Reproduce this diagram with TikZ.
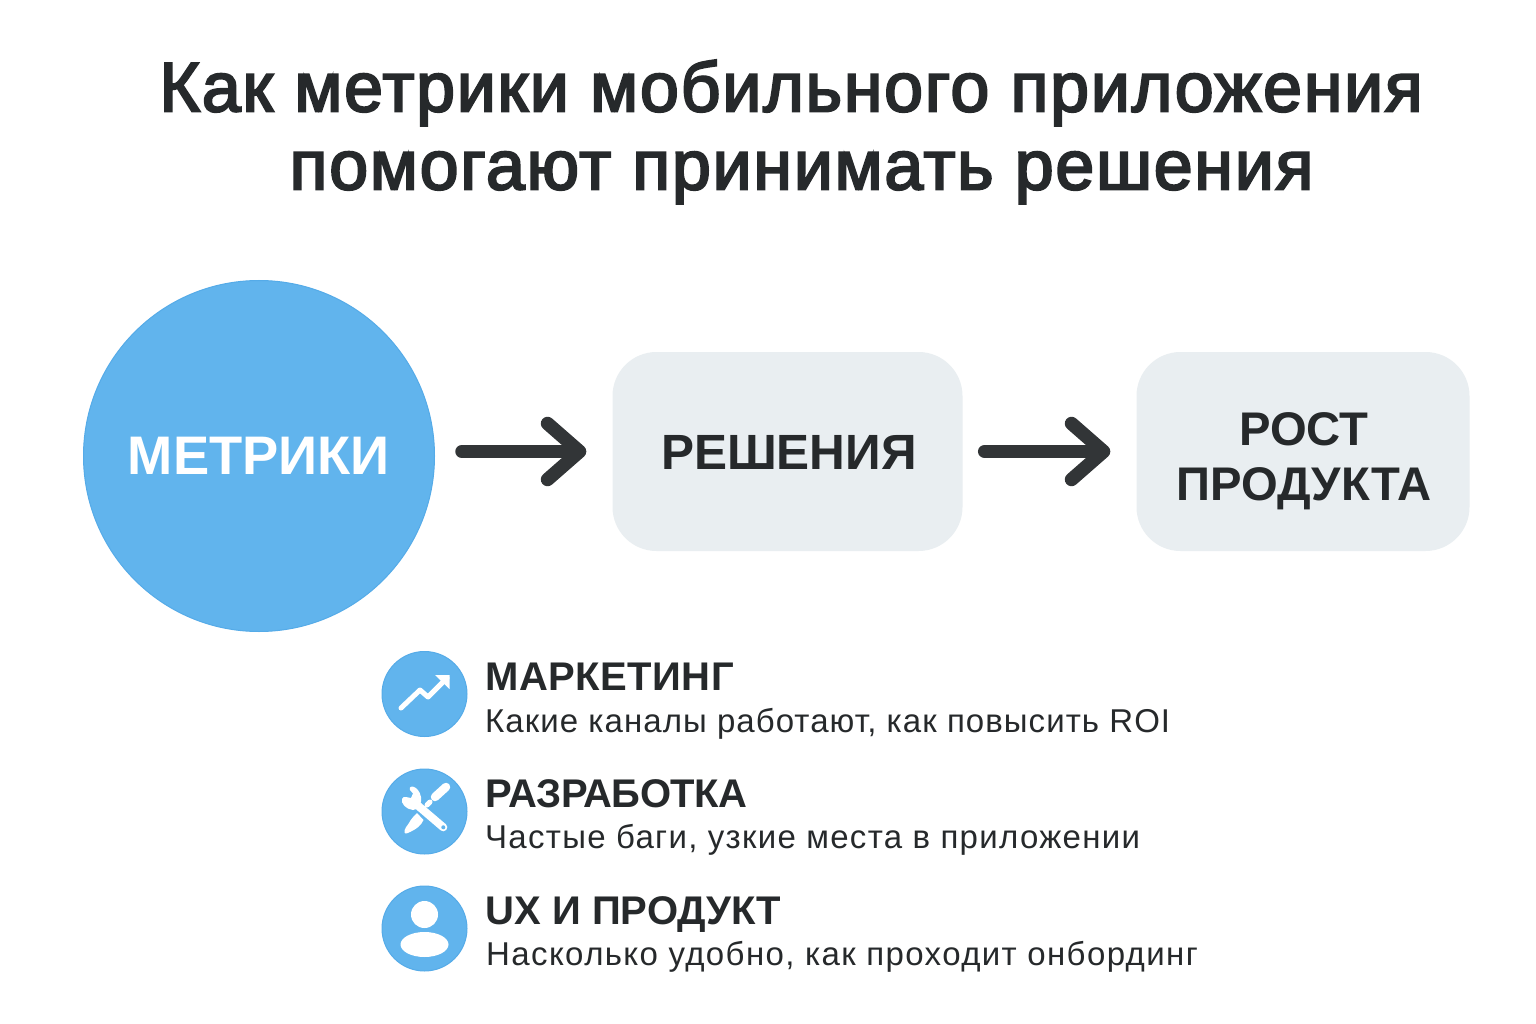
\documentclass[tikz,border=0pt]{standalone}
\usepackage{fontspec}
\setmainfont{Liberation Sans}
\newfontfamily\titlef[FakeBold=3,LetterSpace=2.4]{Liberation Sans}
\newfontfamily\subfa[LetterSpace=3.2]{Liberation Sans}
\newfontfamily\subfb[LetterSpace=3.9]{Liberation Sans}
\newfontfamily\subfc[LetterSpace=4.2]{Liberation Sans}
\usetikzlibrary{arrows.meta}
\definecolor{ink}{HTML}{26292B}
\definecolor{arrowc}{HTML}{323537}
\definecolor{blue1}{HTML}{61B4ED}
\definecolor{blue2}{HTML}{55ABE8}
\definecolor{boxc}{HTML}{E9EEF1}
\tikzset{
 x=1pt,y=-1pt,
 titletxt/.style={text=ink,font=\titlef\fontsize{70}{78}\selectfont,align=center,inner sep=0},
 boxn/.style={fill=boxc,rounded corners=44pt,minimum height=199pt,inner sep=0},
 boxt/.style={inner sep=0,text=ink,align=center},
 flow/.style={draw=arrowc,line width=13.5pt,line cap=round,-{Straight Barb[length=32pt,width=56pt,round,line width=13.5pt,line join=round]}},
 iconc/.style={circle,fill=blue1,draw=blue2,line width=1pt,minimum size=85pt,inner sep=0},
 headt/.style={anchor=base west,inner sep=0,text=ink,font=\fontsize{40}{42}\selectfont\bfseries},
 subt/.style={anchor=base west,inner sep=0,text=ink},
 ico/.style={draw=white,line cap=round,line join=round},
}
\begin{document}
\begin{tikzpicture}
\useasboundingbox (0,0) rectangle (1536,1024);
\fill[white] (0,0) rectangle (1536,1024);
\node[titletxt] (t) at (791,132) {Как метрики мобильного приложения\\\hspace*{21pt}помогают принимать решения};
\node[circle,fill=blue1,draw=blue2,line width=1pt,minimum size=351pt,inner sep=0,text=white,font=\fontsize{54.3}{60}\selectfont\bfseries] (m) at (259,456) {МЕТРИКИ};
\node[boxn,minimum width=350pt] (r) at (787.5,451.5) {};
\node[boxt,font=\fontsize{49.5}{54}\selectfont\bfseries] (rt) at (789,452.5) {РЕШЕНИЯ};
\node[boxn,minimum width=333pt] (g) at (1303,451.5) {};
\node[boxt,font=\fontsize{47.2}{54.5}\selectfont\bfseries] (gt) at (1304,461) {РОСТ\\ПРОДУКТА};
\draw[flow,shorten <=27pt,shorten >=26pt] (m.east |- r.west) -- (r.west);
\draw[flow,shorten <=22pt,shorten >=26pt] (r.east) -- (g.west);
\node[iconc] (i1) at (424.5,694) {};
\node[iconc] (i2) at (424.5,811.5) {};
\node[iconc] (i3) at (424.5,928.5) {};
% chart icon
\draw[ico,line width=5pt] (401,708) -- (420,690) -- (428,697) -- (447,678);
\fill[white] (435,675) -- (449.5,675) -- (449.5,689) -- cycle;
% tools icon: wrench
\draw[ico,line width=8pt] (416,804) -- (443.3,827.3);
\fill[white] (402,799) .. controls (400.5,803) and (406,809.5) .. (413,810) .. controls (419,810) and (422,803) .. (421,797) .. controls (420,791) and (416,787) .. (412.5,786.5) .. controls (409.5,786.5) and (409,789) .. (410,790) -- (413,793.5) -- (411,798) -- (406,797) .. controls (404,796.5) and (402.5,797.5) .. (402,799) -- cycle;
\fill[blue1] (443.3,827.3) circle[radius=2];
% tools icon: screwdriver
\draw[ico,line width=8.5pt] (435,797) -- (446,787);
\draw[ico,line width=5pt] (430,802) -- (427,805);
\fill[white] (404.5,832.5) .. controls (404,829) and (407,826) .. (409,823) .. controls (411,819) and (414,816) .. (417,813) -- (423.5,820) .. controls (421,826) and (416,829) .. (411,831.5) .. controls (408,833) and (405,834.5) .. (404.5,832.5) -- cycle;
% user icon
\fill[white] (424.5,914.5) circle[radius=13.5];
\fill[white] (424.5,944.5) ellipse[x radius=24,y radius=12.5];
\node[headt] (h1) at (485.5,690) {\addfontfeature{LetterSpace=1.1}МАРКЕТИНГ};
\node[subt,font=\subfa\fontsize{33}{34}\selectfont] (s1) at (485,732) {Какие каналы работают, как повысить ROI};
\node[headt] (h2) at (485.5,807) {\addfontfeature{LetterSpace=-1.5}РАЗРАБОТКА};
\node[subt,font=\subfb\fontsize{33}{34}\selectfont] (s2) at (485,848) {Частые баги, узкие места в приложении};
\node[headt] (h3) at (485.5,924) {UX И ПРОДУКТ};
\node[subt,font=\subfc\fontsize{33}{34}\selectfont] (s3) at (486,965) {Насколько удобно, как проходит онбординг};
\end{tikzpicture}
\end{document}
